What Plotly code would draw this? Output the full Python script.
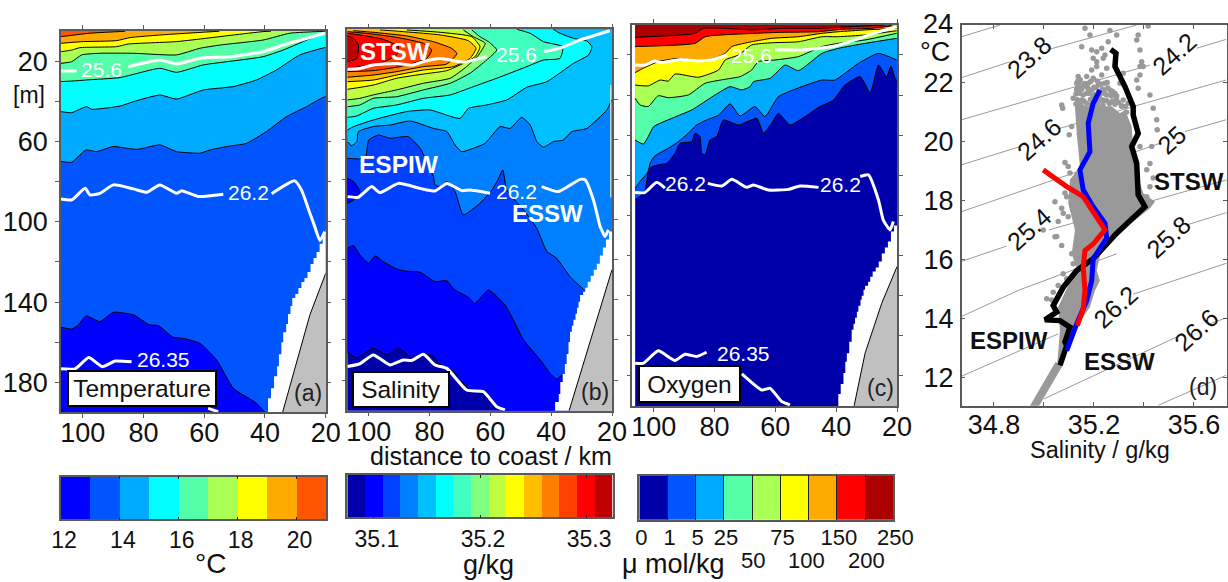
import plotly.graph_objects as go

W, H = 1228, 582
# ---------- temperature section: isotherm depth vs distance to coast ----------
t13_km = [107.1,103.6,101.4,98.9,94.3,89.9,83.3,77.9,75.1,70.2,66.9,61.4,55.9,50.4,42.8,40]
t13_z = [152.6,153.4,151.4,146.9,149.7,145.1,146.4,151.4,151.7,157.6,158.1,160.6,168.9,183,190.4,194.9]
t14_km = [107.1,103.6,100.9,98.9,95.4,89.9,82.2,74.6,69.1,61.4,58.1,52.6,46.1,39.5,32.9,26.3,21.4,20]
t14_z = [70,70.3,66.7,64.2,65,62.5,63.9,61.7,65,65.8,64.2,62.5,60.9,55,47.6,42.6,38.4,37.6]
t15_km = [107.1,103.6,100.3,98.7,97,87.7,83.3,74.6,69.1,60.3,50.4,42.8,36.2,28.5,20]
t15_z = [45.1,45.6,43.4,42.6,43.9,42.3,40.1,36.8,38.8,34.3,32.6,29.3,24.3,16.8,13.0]
t16_km = [107.1,103.1,98.7,87.7,74.6,69.1,60.3,50.4,40.6,34,24,20.3]
t16_z = [30.1,29.8,29.3,28.1,23.5,25.5,21.8,19.8,17.7,14.4,8,6.2]
t17_km = [107.1,103.6,100.3,94.3,83.3,69.1,61.4,54.8,40.6,31.8,23,20]
t17_z = [21,20.2,16.8,16,16,16.8,13.5,11.9,9.4,6,5.2,5]
t18_km = [107.1,103.6,100.9,88.8,85,69.1,59.2,50.4,40.6,38]
t18_z = [15.2,14.4,13.2,12.7,11.4,10.2,8.5,6.9,5.2,5]
t19_km = [107.1,99.8,88.8,84.4,74.6,60.3,55]
t19_z = [11,10.2,9.7,8.2,6.9,5.5,5]
t20_km = [107.1,97.6,88.3,86]
t20_z = [7.7,6,5.2,5]
temp_colors = ["#0000ff","#0055ff","#00aaff","#00ffff","#55ffaa","#aaff55","#ffff00","#ffaa00","#ff5500"]
temp_ticks = [12,14,16,18,20]
temp_edges = [12,13,14,15,16,17,18,19,20,21]

# ---------- salinity section ----------
s1_km = [107,103.9,98.5,94.1,90.2,85.9,79.8,76,72.7,65.6,61.2,57.9,55.7]
s1_z = [166.3,168.9,164.2,167.5,164.2,168.7,167,173,175,186.6,186.6,193.3,195.3]
s2_km = [107,105,102.9,100,97.9,95.2,91.3,88.6,83.1,78.2,74.3,72.1,67.2,65.2,60.6,58.4,55.2,52.4,49.1,43.6,40.4,38.2,36.5]
s2_z = [114.4,113,117.7,121.8,118.2,121,124.3,125.6,126.3,131,130.5,134.6,138.8,141.8,135.1,137.6,142.6,150.1,160,170,176.6,179.6,177.5]
s3_km = [107,101.2,100,96.8,93,87,83.1,78.7,78.2,76.5,74.3,71.6,68.9,63.4,59.5,57.3,55.9,54.6,48.6,44.7,41.4,38.2,33.8,29.4]
s3_z = [69.5,69.5,60.4,57.9,59.5,58.7,64.5,78.6,82.8,83.6,81.1,86.1,97.7,91.9,85.3,79.5,75.3,85.3,96.1,104.5,116,119.3,128.5,134.8]
s4_km = [107,105.6,103.9,103.4,98.5,93,86.4,78.7,74.3,71.6,69.4,65.6,61.7,56.8,53.5,49.7,46.9,44.7,42.5,39.3,36,33.2,28.3,21.7,20]
s4_z = [61.2,63.2,61.2,56.2,53.7,52.9,50.9,54.6,56.2,62.9,66.2,64.5,62,53.7,54.6,49.1,52.9,61.2,64,61.2,60.4,56.2,54.6,45.4,40.1]
s5_km = [107,105,98.5,87.5,79.8,70,67.2,61.2,54.6,48,41.4,32.7,27.7,26.6,28.3,32.7,37.1,39.3]
s5_z = [55.4,53.7,50.4,46.2,45.4,49.6,44.6,42.9,40.4,34.1,31.3,22.2,18,13.9,11,9.7,7.2,5.2]
s6_km = [107,103.9,98.5,90.8,82,73.2,65.6,57.9,48,42.5,37.1,36.2,42.5,46.9,51.3]
s6_z = [49.1,48.4,44.6,42.9,39.6,37.9,33.8,29.6,23.8,20.5,19.7,13.9,11.4,7.2,5.2]
s7_km = [107,102.9,98.5,90.8,82,73.2,66.7,61.2,57.9,60.6,63.4,66.1]
s7_z = [43.8,42.9,39.6,38.8,35.4,32.1,27.1,20.5,15.5,11.4,8.9,5.5]
s8_km = [107,102.9,98.5,90.8,82,73.2,67.8,63.9,61.7,65.6,68.9]
s8_z = [40.4,39.6,37.9,35.4,32.1,29.6,23.8,18,12.2,8.9,5.5]
s9_km = [107,98.5,90.8,82,74.3,68.9,65,63.4,66.1,76.5,87.5]
s9_z = [35.1,33,29.6,27.5,25.8,22.2,18.8,13.9,8.9,6.7,5.5]
s10_km = [107,98.5,90.8,82,72.1,66.7,64.7,67.2,76.5,87.5,96.3]
s10_z = [31.3,30.5,28,25.5,23.8,19.7,14.7,10.9,8,6.5,5.5]
s11_km = [107,98.5,90.8,82,74.3,71.6,71,72.7,78.7,87.5,98.5,105]
s11_z = [29.1,28,26.3,23.8,22.5,18.8,17.2,14.7,11.4,8.5,6.7,5.9]
s12_km = [107,98.5,89.7,80.9,79.3,82,90.8,100.7,107]
s12_z = [26.3,25.8,23.8,19.7,15.5,12.2,9.2,7.2,6.4]
s13_km = [107,102.9,96.3,90.8,90.2,95.2,102.9,107]
s13_z = [24.7,23.8,22.2,18,13.9,10.2,8,7.2]
s14_km = [107,103.9,103.4,105,107]
s14_z = [21.3,19.7,13,9.7,8.5]
pocket_km = [107,105,102.9,105,107]
pocket_z = [79.5,81.1,86.1,90.3,91.9]
sal_colors = ["#0000aa","#0000ff","#0040ff","#0080ff","#00bfff","#00ffff","#40ffbf","#80ff80",
              "#bfff40","#ffff00","#ffbf00","#ff8000","#ff4000","#ff0000","#bf0000"]
sal_ticks = [35.1,35.2,35.3]
sal_edge_lo, sal_edge_hi = 35.075, 35.325

# ---------- oxygen section ----------
o1_km = [106.1,102.9,101.5,98.5,95.7,93,91.3,87.5,86.4,84.8,84.2,83.1,81.5,79.3,77.1,72.1,66.1,63.9,61.2,59,55.2,50.2,45.8,40.9,37.1,32.1,28.8,26.1,23.4,22,20.4,20]
o1_z = [92.3,88.1,76.5,74.8,74,69,64,63.2,59,60.7,69,69.8,62.4,60.7,52.4,54.9,51.6,59,54,49.1,54.9,50.7,46.1,42.4,35,30.8,38.8,25,30.8,25.5,32.5,32.5]
o2_km = [106.1,104.5,101.8,101.2,99.6,95.2,91.9,88.6,85.9,82.6,78.7,74.9,71.6,66.7,63.4,59,51.3,44.7,40.4,32.7,26.1,20.1]
o2_z = [86.4,83.1,78.1,74,70.3,66.5,63.2,59,54.9,52.4,50,44.4,50.4,45.7,50.7,40.8,35.8,32.5,32.5,24.2,19.2,22.5]
o3_km = [106.1,103.4,101.8,100,94.1,87.5,79.8,74.9,71,68.3,67.2,61.7,56.8,52.4,44.7,39.3,30.5,20.1]
o3_z = [62.4,64.4,60.7,55.7,51.6,47.4,39.9,35.8,37.4,35.8,33.3,31.6,25,27.8,19.2,16.7,14.2,11.7]
o4_km = [106.1,104.5,101.8,98.5,95.2,88.6,83.1,76.5,71.6,67.8,65.6,60.1,52.4,44.7,39.3,30.5,20.1]
o4_z = [41.6,44.9,45.7,40.3,41.3,39.9,34.1,32.1,30.8,27.5,23.3,22.5,20.8,15.8,14.2,12.5,9.2]
o5_km = [106.1,101.8,97.9,95.2,93,85.3,78.7,76.5,72.1,67.8,61.2,52.4,44.7,39.3,30.5,20.1]
o5_z = [35,35.4,32.5,33,29.5,31.1,27.5,22.5,20,15,13.9,13.4,10.9,10.9,10,7.9]
o6_km = [106.1,103.4,98.5,91.9,84.2,78.7,76.5,74.3,67.8,61.2,52.4,44.7,39.3,30.5,20.1]
o6_z = [28.8,26.6,23.3,21.7,23.3,20.8,19.2,15.8,13.4,11.7,10.9,9.2,8.4,7.5,6.7]
o7_km = [106.1,86.4,83.1,77.6,66.7,57.9,45.8,38.2,28.3,21.7]
o7_z = [15.8,14.2,10.9,10,9.2,8.7,8.4,7.2,6.7,5.4]
o8_km = [106.1,86.4,83.7,76.5,67.8,57.9,44.7,39.3,23.9]
o8_z = [11.2,9.2,6.7,6.7,7.5,6.7,6.7,6.2,5]
oxy_colors = ["#0000aa","#0055ff","#00aaff","#55ffaa","#aaff55","#ffff00","#ffaa00","#ff0000","#aa0000"]
oxy_labels = ["0","1","5","25","50","75","100","150","200","250"]

# ---------- density contours in the sections ----------
a256_1_km, a256_1_z = [107.1,102], [24.8,24.8]
a256_2_km = [85,74.6,69.1,61.4,51.5,40.6,34,20.3]
a256_2_z = [22.7,19.3,21.3,18.5,17.7,15.2,11.9,6]
a262_1_km = [107.1,103.6,99.2,97.6,94.3,89.9,83.3,78.9,74.6,69.1,67.4,62,53.7]
a262_1_z = [88.6,89.1,83.3,86.6,85.8,81.6,83.6,85.3,81.6,85.8,84.5,87.4,86.3]
a262_2_km = [37.8,30.2,28,25.2,23.6,21.9,20.3]
a262_2_z = [86,79.6,84.1,95.7,102.4,109.4,104.9]
a2635_1_km = [107.1,102.5,98,93.6,89.3,83.9]
a2635_1_z = [173.3,173.3,167.6,172.2,169.4,169.8]
a2635_2_km, a2635_2_z = [58.7,55.4], [193,194.6]

b256_1_km = [107,102.9,98.5,90.8,85.3,82,76.5,73.2,68.9,61.2]
b256_1_z = [25.1,24.7,23,22.2,23,21.3,19.7,20.5,21.6,18.8]
b256_2_km, b256_2_z = [42.3,36.5,30.5,20.7], [16.3,14.3,10.5,5.9]
b262_1_km = [107,103.4,99,96.3,90.2,83.1,78.2,74.3,69.4,66.7,60.1]
b262_1_z = [88.6,88.9,83.6,86.6,82,84.5,85.8,82,85.6,85.3,86.9]
b262_2_km = [43.1,37.6,30.5,28.8,26.1,23.9,23.4,22.3,21.2]
b262_2_z = [83.6,86.1,80,80.3,90.3,103.6,105.2,108.5,105.2]
b2635_km = [107,102.9,98.5,93,88.6,85.9,82,78.2,74.3,67.8,62.3,57.9,55.2]
b2635_z = [173.3,171.9,167.5,172.5,170,170.3,167.2,172.5,174.2,185,185.8,193.3,194.9]

c256_1_km = [106.1,102.9,99.6,97.4,91.3,85.3,80.4,76]
c256_1_z = [25,25,23,23.8,22.2,23,22.2,20]
c256_2_km = [60.1,51.3,40.9,33.8,28.3,20.1]
c256_2_z = [17.5,17.5,15.8,12.5,9.5,5.9]
c262_1_km, c262_1_z = [106.1,102.9,99,96.3], [88.6,88.6,83.5,86.4]
c262_2_km = [82.2,77.6,74.3,69.4,67.2,62.3,55.7,51.9,45.8]
c262_2_z = [84,85.3,82,86,84.8,87.3,87,85.3,86]
c262_3_km = [32.1,29.4,26.1,24.5,22.3,21.2]
c262_3_z = [80.6,79.8,92.3,102.3,107.2,103]
c2635_1_km = [106.1,103.4,98.5,93,89.7,85.9,82.6]
c2635_1_z = [173.7,173.7,167.5,172.3,169.2,170.3,168.2]
c2635_2_km = [71,64.5,61.7,57.9,55.2]
c2635_2_z = [179,187,186.2,192.8,194.4]

# ---------- data gap next to the shelf, and the shelf itself ----------
gap_a_km = [40,39,38,37,36,35.4,34.6,34,33,32.4,31.6,31,30,29,28,27,26,25,24,23,22,21,20.3,20]
gap_a_z = [195,188,183,177,172,166,160,155,151,146,142,138,136,133,130,128,125,121,118,115,111,107,105,104]
gap_b_km = [39.3,38.7,37.5,37,36.2,35.5,34.9,34.3,33.8,33.2,32.7,32,31.5,31,30.5,29.5,28.8,28,27,26,25,24,23,22,21,20]
gap_b_z = [195.3,191,187,181,177,172,167,161,156,153,150,147,144,141,137.6,136,134,131,128,125,122,118,114,110,106,104.4]
gap_c_km = [40,39.3,38.5,37.6,37,36.5,35.7,34.9,34.3,33.8,33.2,32.7,32,31.6,31,30.5,29.5,28.8,28,27,26,25,24,23,22,21,20]
gap_c_z = [195,189,184,178.6,173,168.7,163,157,154,151,148,145,142,140,137,135,133,130.5,128,126,123,119,116,113,108,105,104]
shelf_a_km, shelf_a_z = [34.2,25.2,20], [195,146.4,125.7]
shelf_b_km, shelf_b_z = [34.1,28.3,20], [195.3,166.5,125]
shelf_c_km, shelf_c_z = [34.1,30.5,25,20], [194.9,168.7,143.7,125.5]
stripe_b_km, stripe_b_z = [20.4,20.4], [33,89]

# ---------- T-S diagram ----------
ts_black_s = [35.267,35.288,35.284,35.324,35.357,35.357,35.377,35.351,35.371,35.377,35.404,35.344,35.291,35.197,35.131,35.077,35.037,35.051,35.004,35.064,35.104,35.084,35.091,35.064]
ts_black_t = [23.13,23,22.55,21.87,21.19,20.9,20.28,19.83,19.26,18.19,17.79,17.29,16.89,16.02,15.62,15.05,14.43,14.21,13.95,13.92,13.7,13.19,13.07,12.4]
ts_blue_s = [35.224,35.197,35.177,35.184,35.144,35.157,35.197,35.244,35.251,35.197,35.191,35.171,35.131,35.091]
ts_blue_t = [21.75,21.3,20.62,19.66,19.04,18.36,17.79,17.23,16.72,16.02,15.28,14.6,13.81,12.9]
ts_red_s = [34.997,35.091,35.157,35.244,35.197,35.164,35.157,35.164,35.157,35.133]
ts_red_t = [19.04,18.47,18.13,17,16.52,16.3,15.73,14.94,14.32,13.75]
core_s = [35.124,35.144,35.17,35.2,35.24,35.271,35.304,35.324,35.351,35.357,35.371,35.397,35.444,35.424,35.357,35.291,35.224,35.211,35.224,35.204,35.184,35.157,35.131,35.104,35.077,35.051,35.064,35.057,35.091,35.131,35.111,35.124,35.097,35.104,35.144,35.131]
core_t = [21.19,21.3,21.2,21.3,21.2,21.2,20.96,21.07,20.51,19.72,18.93,18.25,17.96,17.74,17.29,16.89,16.13,15.62,15.28,14.94,14.38,14.04,13.7,13.13,12.68,12.23,13.58,14.38,15,15.68,16.19,17,17.91,18.7,19.15,20.28]
tail_s, tail_t = [35.06,34.964,34.94], [12.45,11.04,10.7]
dots_s = [35.164,35.184,35.264,35.291,35.377,35.371,35.384,35.417,35.257,35.151,35.191,35.211,35.231,35.244,35.197,35.211,35.237,35.211,35.191,35.171,35.231,35.251,35.317,35.384,35.397,35.384,35.371,35.377,35.424,35.391,35.137,35.131,35.144,35.131,35.177,35.197,35.217,35.244,35.264,35.284,35.251,35.304,35.071,35.075,35.117,35.437,35.451,35.453,35.431,35.411,35.424,35.437,35.384,35.111,35.101,35.084,35.097,35.104,35.044,35.071,35.077,35.097,34.997,35.057,35.051,35.117,35.131,35.084,35.091,35.424,35.411,35.337,35.317,35.237,35.197,35.171,35.151,35.137,35.044,35.071,35.111,35.117,35.077,35.091,35.057,35.037,35.011,35.031,35.091,35.14,35.15,35.135,35.145,35.16,35.18,35.2,35.22,35.24,35.27,35.29,35.31,35.33,
          35.142,35.163,35.187,35.214,35.228,35.253,35.133,35.151,35.174,35.192,35.208,35.234,35.256,35.273,35.128,35.157,35.182,35.203,35.223,35.243,35.268,35.291,35.134,35.16,35.186,35.207,35.226,35.252,35.274,35.298,35.128,35.146,35.17,35.19,35.215,35.236,35.262,35.284,35.312,35.326]
dots_t = [23.85,23.62,23.77,23.62,23.62,23.45,23.11,23.93,23.39,23.22,23.11,23.05,23.17,22.94,22.83,22.71,22.83,22.55,22.43,22.21,22.26,22.49,22.32,22.55,22.55,22.26,22.09,21.81,21.58,22.71,22.21,21.98,21.64,21.75,21.98,22.15,21.92,21.98,21.75,21.64,21.58,21.98,21.24,21.13,21.47,21.13,20.74,20.4,19.83,19.04,19.26,18.76,19.83,20.51,20.23,19.29,19.15,18.93,17.96,17.74,17.57,17.45,17,17.29,16.78,18.02,17.57,18.25,18.13,18.47,18.13,21.3,21.41,21.41,21.53,21.64,21.41,21.3,16.77,16.47,16.19,15.85,15.51,15.34,15.11,14.88,14.66,14.62,13.75,21.9,21.8,22.05,22.1,21.9,21.75,21.85,21.7,21.75,21.55,21.45,21.2,21,
          22.02,21.97,22.04,22.06,21.96,22.01,21.81,21.78,21.84,21.76,21.83,21.79,21.82,21.71,21.62,21.58,21.64,21.6,21.57,21.63,21.59,21.55,21.42,21.38,21.44,21.36,21.41,21.39,21.37,21.33,21.28,21.24,21.3,21.26,21.31,21.25,21.29,21.27,21.22,21.19]
iso_lines = {
    "iso1": ([34.67,34.824], [23.56,23.96]),
    "iso2a": ([34.67,34.864], [22.17,22.71]),
    "iso2b": ([35.011,35.371], [23.11,23.96]),
    "iso3a": ([34.67,35.424], [20.74,22.6]),
    "iso3b": ([35.611,35.728], [23.17,23.47]),
    "iso4a": ([34.67,34.904], [19.21,19.83]),
    "iso4b": ([35.064,35.357,35.728], [20.45,21.19,22.09]),
    "iso5a": ([34.67,35.344,35.464], [17.62,19.6,19.94]),
    "iso5b": ([35.564,35.728], [20.34,20.74]),
    "iso6a": ([34.67,34.85], [15.93,16.45]),
    "iso6b": ([35.02,35.73], [17.0,18.7]),
    "iso7a": ([34.67,34.904,35.291], [14.06,14.97,16.19]),
    "iso7b": ([35.571,35.731], [17.17,17.59]),
    "iso8a": ([34.67,35.057], [12.03,13.47]),
    "iso8b": ([35.357,35.731], [14.82,15.87]),
    "iso9a": ([35.0,35.53], [11.26,13.36]),
    "iso9b": ([35.66,35.728], [13.8,14.01]),
    "iso10": ([35.457,35.728], [11.04,12.06]),
}

depth_ticks = [20,40,60,80,100,120,140,160,180]
depth_text = ["20","","60","","100","","140","","180"]
km_ticks = [100,80,60,40,20]
sal_x_ticks = [34.8,35.0,35.2,35.4,35.6]
sal_x_text = ["34.8","","35.2","","35.6"]
temp_y_ticks = [12,14,16,18,20,22,24]

FONT = "Liberation Sans"
AXC = "#5a5a5a"
SMOOTH = dict(shape="spline", smoothing=0.5)
fig = go.Figure()


def dom_x(a, b):
    return [a / W, b / W]


def dom_y(top, bottom):
    return [1 - bottom / H, 1 - top / H]


def poly(km, z, color, ax, left):
    """Area on the shallow side of an isoline."""
    xs, ys = [left] + list(km), [z[0]] + list(z)
    if km[-1] >= 105:
        xs.append(left); ys.append(z[-1])
    elif z[-1] <= 6 and km[-1] > 21:
        xs += [km[-1], left]; ys += [0, 0]
    else:
        xs += [19, 19, left]; ys += [z[-1], 0, 0]
    fig.add_trace(go.Scatter(x=xs, y=ys, mode="lines", fill="toself", fillcolor=color,
                             line=dict(width=0, **SMOOTH), xaxis=ax[0], yaxis=ax[1], hoverinfo="skip", showlegend=False))


def line(km, z, ax, color="black", width=1, smooth=True):
    ln = dict(color=color, width=width, **(SMOOTH if smooth else {}))
    fig.add_trace(go.Scatter(x=km, y=z, mode="lines", line=ln,
                             xaxis=ax[0], yaxis=ax[1], hoverinfo="skip", showlegend=False))


def base(color, ax, left):
    fig.add_trace(go.Scatter(x=[left, 19, 19, left, left], y=[0, 0, 200, 200, 0], mode="lines", fill="toself",
                             fillcolor=color, line=dict(width=0), xaxis=ax[0], yaxis=ax[1],
                             hoverinfo="skip", showlegend=False))


def land(gap_km, gap_z, sh_km, sh_z, ax):
    fig.add_trace(go.Scatter(x=list(gap_km) + [19, 19, gap_km[0]], y=list(gap_z) + [gap_z[-1], 200, 200],
                             mode="lines", fill="toself", fillcolor="white", line=dict(width=0, shape="hv"),
                             xaxis=ax[0], yaxis=ax[1], hoverinfo="skip", showlegend=False))
    fig.add_trace(go.Scatter(x=list(sh_km) + [19, 19, sh_km[0]], y=list(sh_z) + [sh_z[-1], 200, 200],
                             mode="lines", fill="toself", fillcolor="#c0c0c0", line=dict(width=0),
                             xaxis=ax[0], yaxis=ax[1], hoverinfo="skip", showlegend=False))
    line(sh_km, sh_z, ax, smooth=False)


# panel a
A = ("x", "y")
base(temp_colors[0], A, 108)
for i, (k, z) in enumerate([(t13_km,t13_z),(t14_km,t14_z),(t15_km,t15_z),(t16_km,t16_z),(t17_km,t17_z),
                            (t18_km,t18_z),(t19_km,t19_z),(t20_km,t20_z)]):
    poly(k, z, temp_colors[i + 1], A, 108)
for k, z in [(t13_km,t13_z),(t14_km,t14_z),(t15_km,t15_z),(t16_km,t16_z),(t17_km,t17_z),(t18_km,t18_z),(t19_km,t19_z),(t20_km,t20_z)]:
    line(k, z, A)
land(gap_a_km, gap_a_z, shelf_a_km, shelf_a_z, A)
for k, z in [(a256_1_km,a256_1_z),(a256_2_km,a256_2_z),(a262_1_km,a262_1_z),(a262_2_km,a262_2_z),(a2635_1_km,a2635_1_z),(a2635_2_km,a2635_2_z)]:
    line(k, z, A, "white", 3)

# panel b
B = ("x2", "y2")
base(sal_colors[0], B, 108)
sal_lines = [(s1_km,s1_z),(s2_km,s2_z),(s3_km,s3_z),(s4_km,s4_z),(s5_km,s5_z),(s6_km,s6_z),(s7_km,s7_z),
             (s8_km,s8_z),(s9_km,s9_z),(s10_km,s10_z),(s11_km,s11_z),(s12_km,s12_z),(s13_km,s13_z),(s14_km,s14_z)]
for i, (k, z) in enumerate(sal_lines):
    poly(k, z, sal_colors[i + 1], B, 108)
poly(pocket_km, pocket_z, sal_colors[1], B, 108)
for k, z in sal_lines + [(pocket_km, pocket_z)]:
    line(k, z, B)
land(gap_b_km, gap_b_z, shelf_b_km, shelf_b_z, B)
line(stripe_b_km, stripe_b_z, B, "white", 1, smooth=False)
for k, z in [(b256_1_km,b256_1_z),(b256_2_km,b256_2_z),(b262_1_km,b262_1_z),(b262_2_km,b262_2_z),(b2635_km,b2635_z)]:
    line(k, z, B, "white", 3)

# panel c
C = ("x3", "y3")
base(oxy_colors[0], C, 106.1)
oxy_lines = [(o1_km,o1_z),(o2_km,o2_z),(o3_km,o3_z),(o4_km,o4_z),(o5_km,o5_z),(o6_km,o6_z),(o7_km,o7_z),(o8_km,o8_z)]
for i, (k, z) in enumerate(oxy_lines):
    poly(k, z, oxy_colors[i + 1], C, 106.1)
for k, z in oxy_lines:
    line(k, z, C)
land(gap_c_km, gap_c_z, shelf_c_km, shelf_c_z, C)
for k, z in [(c256_1_km,c256_1_z),(c256_2_km,c256_2_z),(c262_1_km,c262_1_z),(c262_2_km,c262_2_z),(c262_3_km,c262_3_z),(c2635_1_km,c2635_1_z),(c2635_2_km,c2635_2_z)]:
    line(k, z, C, "white", 3)

# panel d
D = ("x4", "y4")
for s, t in iso_lines.values():
    line(s, t, D, "#9a9a9a", 1, smooth=False)
fig.add_trace(go.Scatter(x=core_s, y=core_t, mode="lines", fill="toself", fillcolor="#999999",
                         line=dict(width=0), xaxis="x4", yaxis="y4", hoverinfo="skip", showlegend=False))
fig.add_trace(go.Scatter(x=dots_s, y=dots_t, mode="markers", marker=dict(color="#999999", size=5.5),
                         xaxis="x4", yaxis="y4", hoverinfo="skip", showlegend=False))
line(tail_s, tail_t, D, "#999999", 8, smooth=False)
line(ts_black_s, ts_black_t, D, "black", 5.5, smooth=False)
line(ts_blue_s, ts_blue_t, D, "#0000ff", 5, smooth=False)
line(ts_red_s, ts_red_t, D, "#ff0000", 5, smooth=False)


# colour bars
def cbar(edges, colors, ax):
    n = len(colors)
    scale = [[i / (n - 1), c] for i, c in enumerate(colors)]
    fig.add_trace(go.Heatmap(x=edges, y=[0, 1], z=[list(range(n))], zmin=0, zmax=n - 1, colorscale=scale,
                             showscale=False, xaxis=ax[0], yaxis=ax[1], hoverinfo="skip"))


cbar(temp_edges, temp_colors, ("x5", "y5"))
sal_edges = [sal_edge_lo + i * (sal_edge_hi - sal_edge_lo) / 15 for i in range(16)]
cbar(sal_edges, sal_colors, ("x6", "y6"))
cbar(list(range(10)), oxy_colors, ("x7", "y7"))

tickfont = dict(family=FONT, size=27, color="#111111")


def km_axis(left, right, xmax, anchor):
    return dict(domain=dom_x(left, right), range=[xmax, 20], anchor=anchor, tickvals=km_ticks,
                ticks="outside", ticklen=4, tickcolor=AXC, showline=True, linecolor=AXC, linewidth=1.5,
                mirror="ticks", showgrid=False, zeroline=False, tickfont=tickfont, ticklabelstandoff=-8)


def z_axis(top, bottom, zr, anchor, labels):
    return dict(domain=dom_y(top, bottom), range=zr, anchor=anchor, tickvals=depth_ticks,
                ticktext=depth_text if labels else [""] * 9, tickmode="array",
                ticks="outside", ticklen=4, tickcolor=AXC, showline=True, linecolor=AXC, linewidth=1.5,
                mirror="ticks", showgrid=False, zeroline=False, tickfont=tickfont, ticklabelstandoff=2)


def bar_axes(left, right, top, bottom, xr, anchor_x, vals, text, size=23, ticklen=3, shift=3, standoff=0):
    xa = dict(domain=dom_x(left, right), range=xr, anchor=anchor_x.replace("x", "y"), tickvals=vals, ticktext=text,
              tickmode="array", ticks="inside", ticklen=ticklen, tickcolor="#222222", showline=True, linecolor=AXC,
              linewidth=1.5, mirror="ticks", showgrid=False, zeroline=False, ticklabelshift=shift,
              tickfont=dict(family=FONT, size=size, color="#111111"), ticklabelstandoff=standoff)
    ya = dict(domain=dom_y(top, bottom), range=[0, 1], anchor=anchor_x, showticklabels=False, ticks="",
              showline=True, linecolor=AXC, linewidth=1.5, mirror=True, showgrid=False, zeroline=False)
    return xa, ya


xa5, ya5 = bar_axes(61, 326, 476.7, 519.3, [12, 21], "x5", temp_ticks, [str(v) for v in temp_ticks], standoff=-1)
xa6, ya6 = bar_axes(347.3, 612.7, 475, 517.3, [sal_edge_lo, sal_edge_hi], "x6", sal_ticks, [str(v) for v in sal_ticks], standoff=0)
row1 = [t if i in (0, 1, 2, 3, 5, 7, 9) else "" for i, t in enumerate(oxy_labels)]
xa7, ya7 = bar_axes(639.3, 893.3, 475.7, 520, [0, 9], "x7", list(range(10)), row1, size=22, ticklen=44, shift=2, standoff=-3)

annotations = []


def ann(text, px, py, size, color="#111111", bold=False, angle=0, **kw):
    t = f"<b>{text}</b>" if bold else text
    annotations.append(dict(text=t, x=px / W, y=1 - py / H, xref="paper", yref="paper", showarrow=False,
                            xanchor="center", yanchor="middle", textangle=angle,
                            font=dict(family=FONT, size=size, color=color), **kw))


# density labels in the sections
for txt, px, py, s in [("25.6",101.7,69,21),("26.2",248,192.7,21),("26.35",163.3,359,21),
                       ("25.6",516.7,54,21),("26.2",516,191.7,21),
                       ("25.6",751.7,55,21),("26.2",685,183.3,21),("26.2",840,184,21),("26.35",743.3,354,21)]:
    ann(txt, px, py, s, "white")
ann("STSW", 395, 51.7, 24, "white", True)
ann("ESPIW", 399, 164, 24.5, "white", True)
ann("ESSW", 547.3, 213.3, 24, "white", True)
for txt, px, py, wd, ht in [("Temperature",142.2,388.7,146,33),("Salinity",401,389.2,94,33),("Oxygen",689.5,384.2,99,34)]:
    ann(txt, px, py, 24.5, "#111111", bgcolor="white", bordercolor="black", borderwidth=2, borderpad=0, width=wd, height=ht)
ann("(a)", 307.5, 393, 23, "#222222")
ann("(b)", 595, 391.7, 23, "#222222")
ann("(c)", 880, 388.3, 23, "#222222")
ann("(d)", 1203.3, 386.7, 23, "#222222")
ann("[m]", 29.3, 95, 23)
ann("distance to coast / km", 490.7, 456, 25)
ann("24", 938, 24, 27)
ann("°C", 935, 51.7, 27)
ann("Salinity / g/kg", 1100, 450, 23.5)
ann("STSW", 1189, 181.7, 24, "#111111", True)
ann("ESPIW", 1009.3, 340, 24, "#111111", True)
ann("ESSW", 1119, 361, 24, "#111111", True)
for txt, px, py in [("23.8",1029.3,57.3),("24.2",1174,54),("24.6",1039.3,139.3),("25",1171.7,140),
                    ("25.4",1029.3,229.3),("25.8",1168.3,236.7),("26.2",1115,306.7),("26.6",1196,330)]:
    ann(txt, px, py, 25, "#111111", angle=-42)
ann("°C", 210, 563, 28)
ann("g/kg", 488.7, 565, 27)
ann("μ mol/kg", 673, 564, 27)
for txt, px in [("50",753.3),("100",806.7),("200",866.7)]:
    ann(txt, px, 560, 22)

fig.update_layout(
    width=W, height=H, margin=dict(l=0, r=0, t=0, b=0, autoexpand=False), autosize=False, paper_bgcolor="white", plot_bgcolor="white",
    showlegend=False, annotations=annotations, font=dict(family=FONT),
    xaxis=km_axis(61, 325.7, 107.14, "y"), yaxis=z_axis(31, 412, [194.8, 4.9], "x", True),
    xaxis2=km_axis(347.3, 612, 107.04, "y2"), yaxis2=z_axis(29.3, 410.7, [195.3, 5.2], "x2", False),
    xaxis3=km_axis(632.3, 897, 107.04, "y3"), yaxis3=z_axis(25, 406, [195, 5.05], "x3", False),
    xaxis4=dict(domain=dom_x(961.7, 1226.7), range=[34.671, 35.731], anchor="y4", tickvals=sal_x_ticks, ticktext=sal_x_text,
                tickmode="array", ticks="inside", ticklen=4, tickcolor=AXC, showline=True, linecolor=AXC, linewidth=1.5,
                mirror="ticks", showgrid=False, zeroline=False, tickfont=dict(family=FONT, size=27, color="#111111"),
                ticklabelstandoff=-6),
    yaxis4=dict(domain=dom_y(25, 405.7), range=[11.03, 23.96], anchor="x4", tickvals=temp_y_ticks,
                ticks="inside", ticklen=4, tickcolor=AXC, showline=True, linecolor=AXC, linewidth=1.5,
                mirror="ticks", showgrid=False, zeroline=False, tickfont=dict(family=FONT, size=27, color="#111111"),
                ticklabelstandoff=1),
    xaxis5=xa5, yaxis5=ya5, xaxis6=xa6, yaxis6=ya6, xaxis7=xa7, yaxis7=ya7,
)

fig.write_html("out.html", post_script="document.body.style.margin='0';", config={"displayModeBar": False})
